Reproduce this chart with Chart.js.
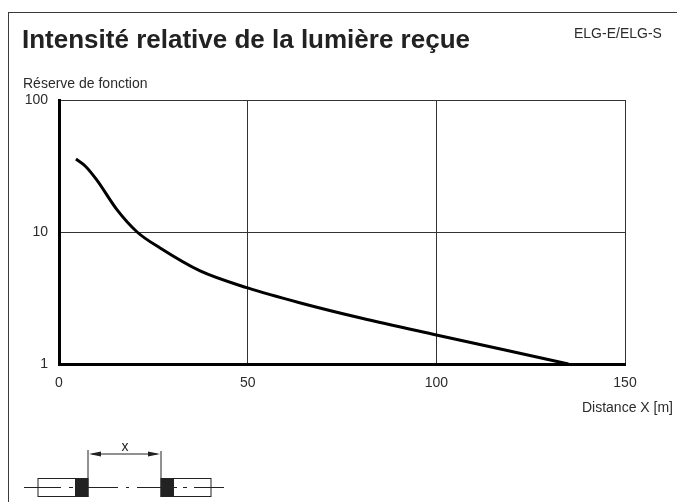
<!DOCTYPE html>
<html lang="fr">
<head>
<meta charset="UTF-8">
<title>Intensité relative de la lumière reçue</title>
<script src="https://cdn.jsdelivr.net/npm/chart.js"></script>
<style>
    html, body { margin: 0; padding: 0; background: #fff; }
    body { width: 677px; height: 502px; position: relative; overflow: hidden; font-family: 'Liberation Sans', Arial, sans-serif; color: #2b2b2b; }
    #frame { position: absolute; left: 8px; top: 12px; width: 680px; height: 500px; border: 1px solid #3a3a3a; box-sizing: border-box; }
    canvas { position: absolute; left: 0; top: 0; }
    .txt { position: absolute; white-space: nowrap; font-size: 14px; line-height: 16px; }
    h1 { position: absolute; left: 22px; top: 24px; margin: 0; font-size: 26px; line-height: 30px; font-weight: bold; white-space: nowrap; color: #222; }
    svg { position: absolute; left: 0; top: 430px; }
</style>
</head>
<body>
<div id="frame"></div>
<canvas id="chart" width="677" height="502"></canvas>
<h1>Intensité relative de la lumière reçue</h1>
<div class="txt" style="left:574px;top:25px">ELG-E/ELG-S</div>
<div class="txt" style="left:23px;top:75px">Réserve de fonction</div>
<div class="txt" style="right:4px;top:399px">Distance X [m]</div>
<svg width="240" height="72" viewBox="0 430 240 72">
    <g stroke="#222" fill="none" stroke-width="1">
        <rect x="38" y="478.5" width="50" height="18"/>
        <rect x="161" y="478.5" width="50" height="18"/>
        <path d="M88 450V497M161 451V497M92 454H157"/>
        <path d="M24 487.5H61M69 487.5H73M88 487.5H118M126 487.5H129M137 487.5H161M174 487.5H177M183 487.5H187M194 487.5H224"/>
    </g>
    <rect x="75" y="478" width="13" height="19" fill="#222"/>
    <rect x="161" y="478" width="13" height="19" fill="#222"/>
    <path d="M89 454L101 451.5V456.5ZM160 454L148 451.5V456.5Z" fill="#222"/>
    <text x="125" y="451" font-size="14" text-anchor="middle" fill="#222">x</text>
</svg>
<script>
    const distance = [4.5, 7, 10, 15.4, 20.7, 26.8, 37.4, 50, 64, 80, 100, 117, 135];
    const reserve = [35.7, 31.5, 24.8, 14.7, 10, 7.56, 5.07, 3.77, 2.9, 2.23, 1.66, 1.3, 1];
    const xTicks = [0, 50, 100, 150];
    const yTicks = [1, 10, 100];

    const points = distance.map((d, i) => ({ x: d, y: reserve[i] }));

    new Chart(document.getElementById('chart').getContext('2d'), {
        type: 'line',
        data: {
            datasets: [{
                data: points,
                borderColor: '#000',
                borderWidth: 3,
                pointRadius: 0,
                cubicInterpolationMode: 'monotone',
                fill: false
            }]
        },
        options: {
            responsive: false,
            animation: false,
            layout: { padding: { left: 0, top: 100, right: 52, bottom: 108 } },
            plugins: { legend: { display: false }, tooltip: { enabled: false } },
            scales: {
                x: {
                    type: 'linear',
                    min: 0,
                    max: 150,
                    afterBuildTicks: s => { s.ticks = xTicks.map(v => ({ value: v })); },
                    afterFit: s => { s.height = 30; },
                    grid: { color: '#333', lineWidth: 1, tickLength: 0 },
                    border: { color: '#000', width: 3 },
                    ticks: { color: '#2b2b2b', font: { family: 'Liberation Sans', size: 14 }, padding: 11, maxRotation: 0 }
                },
                y: {
                    type: 'logarithmic',
                    min: 1,
                    max: 100,
                    afterBuildTicks: s => { s.ticks = yTicks.map(v => ({ value: v })); },
                    afterFit: s => { s.width = 59; },
                    grid: { color: '#333', lineWidth: 1, tickLength: 0 },
                    border: { color: '#000', width: 3 },
                    ticks: { color: '#2b2b2b', font: { family: 'Liberation Sans', size: 14 }, padding: 11, callback: v => String(v) }
                }
            }
        }
    });
</script>
</body>
</html>
